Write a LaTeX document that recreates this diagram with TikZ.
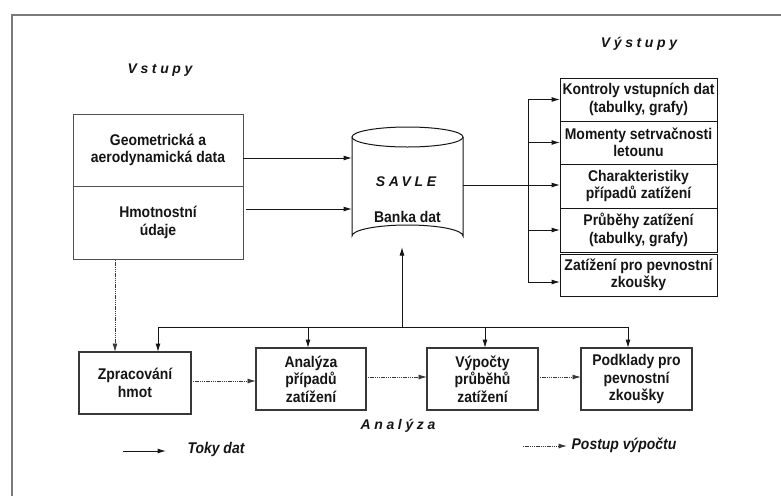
\documentclass[tikz,border=0pt]{standalone}
\usepackage{fontspec}
\setmainfont{Liberation Sans}
\newfontfamily\spacedfont[LetterSpace=26]{Liberation Sans}
\newfontfamily\narrowfont[FakeStretch=0.9]{Liberation Sans}
\usetikzlibrary{arrows.meta,calc}
\newcommand\boxtxt{\fontsize{15.5}{17.5}\selectfont\narrowfont\bfseries}
\newcommand\headtxt{\fontsize{14}{15}\selectfont\spacedfont\bfseries\itshape}
\newcommand\legtxt{\fontsize{15.5}{17}\selectfont\narrowfont\bfseries\itshape}
\definecolor{ink}{HTML}{151515}
\definecolor{framegray}{HTML}{7A7A7A}
\tikzset{
  tip/.style={-{Latex[length=8.5pt,width=5pt]}},
  flow/.style={tip, line width=1pt, draw=ink},
  calcflow/.style={tip, line width=0.9pt, draw=ink!85, dash pattern=on 1.3pt off 0.9pt},
  inbox/.style={draw=ink!75, line width=0.8pt, inner sep=0pt, outer sep=0pt, align=center, font=\boxtxt, text=ink, minimum width=170pt},
  outbox/.style={draw=ink, line width=1pt, inner sep=0pt, outer sep=0pt, align=center, font=\boxtxt, text=ink, minimum width=157pt},
  anbox/.style={draw=ink!85, line width=1.1pt, inner sep=0pt, outer sep=0pt, align=center, font=\boxtxt, text=ink, minimum height=62pt},
  heading/.style={font=\headtxt, text=ink, inner sep=0pt},
  legend/.style={font=\legtxt, text=ink, inner sep=0pt},
  plain/.style={font=\boxtxt, text=ink, inner sep=0pt}
}
\begin{document}
\begin{tikzpicture}[x=1pt,y=-1pt]
\useasboundingbox[fill=white] (0,0) rectangle (781,496);
% frame
\coordinate (fr1) at (781,15);
\coordinate (fr2) at (12,15);
\coordinate (fr3) at (12,496);
\draw[framegray, line width=1.6pt] (fr1) -- (fr2) -- (fr3);

% headings
\node[heading] (vstupy) at (160,70) {Vstupy};
\node[heading] (vystupy) at (639,44) {Výstupy};
\node[heading] (analyza) at (398,426) {Analýza};

% inputs
\node[inbox, minimum height=72pt] (geo) at (158,150) {Geometrická a\\aerodynamická data};
\node[inbox, minimum height=73pt] (hmot) at (158,222.5) {Hmotnostní\\údaje};

% data bank (cylinder)
\node[minimum width=111pt, minimum height=120pt, inner sep=0pt, outer sep=0pt] (bank) at (407.5,187) {};
\draw[ink, line width=1pt] (352,137) -- (352,236) arc[start angle=180, end angle=360, x radius=55.5, y radius=11] -- (463,137);
\draw[ink, line width=1pt] (407.5,137) ellipse[x radius=55.5, y radius=10];
\node[heading] (savle) at (406,182) {SAVLE};
\node[plain] (banka) at (407.5,217) {Banka dat};

% outputs
\node[outbox, minimum height=43pt] (o1) at (638.5,99.5) {Kontroly vstupních dat\\(tabulky, grafy)};
\node[outbox, minimum height=43pt] (o2) at (638.5,142.5) {Momenty setrvačnosti\\letounu};
\node[outbox, minimum height=44pt] (o3) at (638.5,186) {Charakteristiky\\případů zatížení};
\node[outbox, minimum height=44pt] (o4) at (638.5,230) {Průběhy zatížení\\(tabulky, grafy)};
\node[outbox, minimum height=42pt] (o5) at (638.5,275) {Zatížení pro pevnostní\\zkoušky};

% analysis boxes
\node[anbox, minimum width=112pt] (zp) at (135,383) {Zpracování\\hmot};
\node[anbox, minimum width=110pt] (an) at (311,379) {Analýza\\případů\\zatížení};
\node[anbox, minimum width=111pt] (vy) at (482.5,379) {Výpočty\\průběhů\\zatížení};
\node[anbox, minimum width=111pt] (po) at (636.5,379) {Podklady pro\\pevnostní\\zkoušky};

% input -> bank
\draw[flow] ($(geo.east)+(0,8)$) -- ($(geo.east -| bank.west)+(0,8)$);
\draw[flow] ($(hmot.east)+(3,-13.5)$) -- ($(hmot.east -| bank.west)+(0,-13.5)$);

% bank -> outputs
\coordinate (trunk) at (528,0);
\coordinate (o5in) at ($(o5.west)+(0,7)$);
\draw[flow] ($(bank.east |- o3.west)+(0,-1)$) -- ($(o3.west)+(0,-1)$);
\draw[ink, line width=1pt] (trunk |- o1.west) -- (trunk |- o5in);
\draw[flow] (trunk |- o1.west) -- (o1.west);
\draw[flow] (trunk |- o2.west) -- (o2.west);
\draw[flow] (trunk |- o4.west) -- (o4.west);
\draw[flow] (trunk |- o5in) -- (o5in);

% bus
\coordinate (busL) at (158,327);
\coordinate (busR) at (628,327);
\coordinate (busUp) at (402,327);
\coordinate (busAn) at (308,327);
\coordinate (busVy) at (485,327);
\draw[ink, line width=1pt] (busL) -- (busR);
\draw[flow] (busUp) -- (busUp |- bank.south);
\draw[flow] (busL) -- (busL |- zp.north);
\draw[flow] (busAn) -- (busAn |- an.north);
\draw[flow] (busVy) -- (busVy |- vy.north);
\draw[flow] (busR) -- (busR |- po.north);

% calculation flow
\coordinate (hd) at ($(hmot.south)+(-43,1)$);
\draw[calcflow] (hd) -- (hd |- zp.north);
\draw[calcflow] ($(zp.east)+(2,-2)$) -- ($(zp.east -| an.west)+(0,-2)$);
\draw[calcflow] ($(an.east)+(2,-2)$) -- ($(an.east -| vy.west)+(0,-2)$);
\draw[calcflow] ($(vy.east)+(2,-2)$) -- ($(vy.east -| po.west)+(0,-2)$);

% legend
\coordinate (l1) at (123,451);
\coordinate (l2) at (166,451);
\draw[flow] (l1) -- (l2);
\node[legend] (toky) at (216,449) {Toky dat};
\coordinate (d1) at (523,446);
\coordinate (d2) at (567,446);
\draw[calcflow] (d1) -- (d2);
\node[legend] (postup) at (624,445) {Postup výpočtu};
\end{tikzpicture}
\end{document}
